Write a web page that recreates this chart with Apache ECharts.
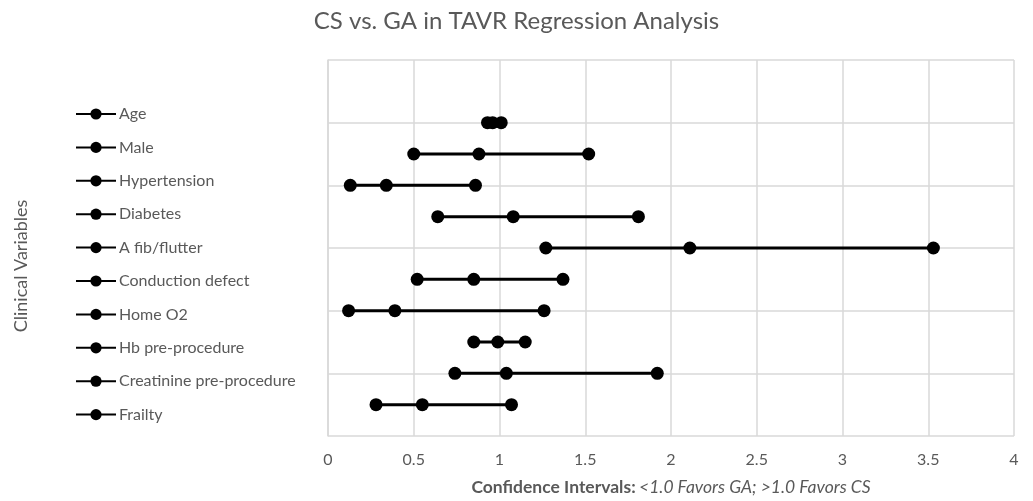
<!DOCTYPE html>
<html>
<head>
<meta charset="utf-8">
<script src="https://cdn.jsdelivr.net/npm/echarts@6/dist/echarts.min.js"></script>
<style>html,body{margin:0;padding:0;background:#fff;}#c{width:1033px;height:501px;}</style>
</head>
<body>
<div id="c"></div>
<script>
// Categories (top to bottom) and their row positions on the hidden y axis
const categories = ['Age','Male','Hypertension','Diabetes','A fib/flutter','Conduction defect','Home O2','Hb pre-procedure','Creatinine pre-procedure','Frailty'];
const rowPos = [10,9,8,7,6,5,4,3,2,1];
// Lower CI, estimate, upper CI
const lower =    [0.93, 0.50, 0.13, 0.64, 1.27, 0.52, 0.12, 0.85, 0.74, 0.28];
const estimate = [0.96, 0.88, 0.34, 1.08, 2.11, 0.85, 0.39, 0.99, 1.04, 0.55];
const upper =    [1.01, 1.52, 0.86, 1.81, 3.53, 1.37, 1.26, 1.15, 1.92, 1.07];
const xTicks = ['0','0.5','1','1.5','2','2.5','3','3.5','4'];

const FONT = 'Lato, "Open Sans", sans-serif';
const GRAY = '#595959';

const series = categories.map((name, i) => ({
  name: name,
  type: 'line',
  data: [[lower[i], rowPos[i]], [estimate[i], rowPos[i]], [upper[i], rowPos[i]]],
  symbol: 'circle',
  symbolSize: 13,
  showSymbol: true,
  lineStyle: { color: '#000', width: 3 },
  itemStyle: { color: '#000' },
  emphasis: { disabled: true },
  animation: false
}));

const chart = echarts.init(document.getElementById('c'));
chart.setOption({
  animation: false,
  title: {
    text: 'CS vs. GA in TAVR Regression Analysis',
    left: 'center',
    top: 4,
    textStyle: { fontFamily: FONT, fontSize: 24, fontWeight: 'normal', color: GRAY }
  },
  legend: {
    orient: 'vertical',
    left: 70,
    top: 101,
    itemWidth: 40,
    itemHeight: 14,
    itemGap: 17.4,
    data: categories,
    textStyle: { fontFamily: FONT, fontSize: 16, color: GRAY, padding: [0, 0, 0, -2] }
  },
  grid: { left: 328, right: 19, top: 60, bottom: 65 },
  xAxis: {
    type: 'value',
    min: 0, max: 4, interval: 0.5,
    axisLine: { show: false },
    axisTick: { show: false },
    splitLine: { show: true, lineStyle: { color: '#d9d9d9', width: 1.5 } },
    axisLabel: {
      margin: 16,
      fontFamily: FONT, fontSize: 16, color: GRAY,
      formatter: (v) => xTicks[Math.round(v / 0.5)]
    },
    name: '{b|Confidence Intervals:} {i|<1.0 Favors GA; >1.0 Favors CS}',
    nameLocation: 'middle',
    nameGap: 42,
    nameTextStyle: {
      rich: {
        b: { fontFamily: FONT, fontSize: 17.5, fontWeight: 'bold', color: GRAY },
        i: { fontFamily: FONT, fontSize: 17.5, fontStyle: 'italic', color: GRAY }
      }
    }
  },
  yAxis: {
    type: 'value',
    min: 0, max: 12, interval: 2,
    axisLine: { show: true, lineStyle: { color: '#d9d9d9', width: 1.5 } },
    axisTick: { show: false },
    axisLabel: { show: false },
    splitLine: { show: true, lineStyle: { color: '#d9d9d9', width: 1.5 } },
    name: 'Clinical Variables',
    nameLocation: 'middle',
    nameGap: 298,
    nameRotate: 90,
    nameTextStyle: { fontFamily: FONT, fontSize: 18, color: GRAY, padding: [0, 36, 0, 0] }
  },
  series: series
});
</script>
</body>
</html>
